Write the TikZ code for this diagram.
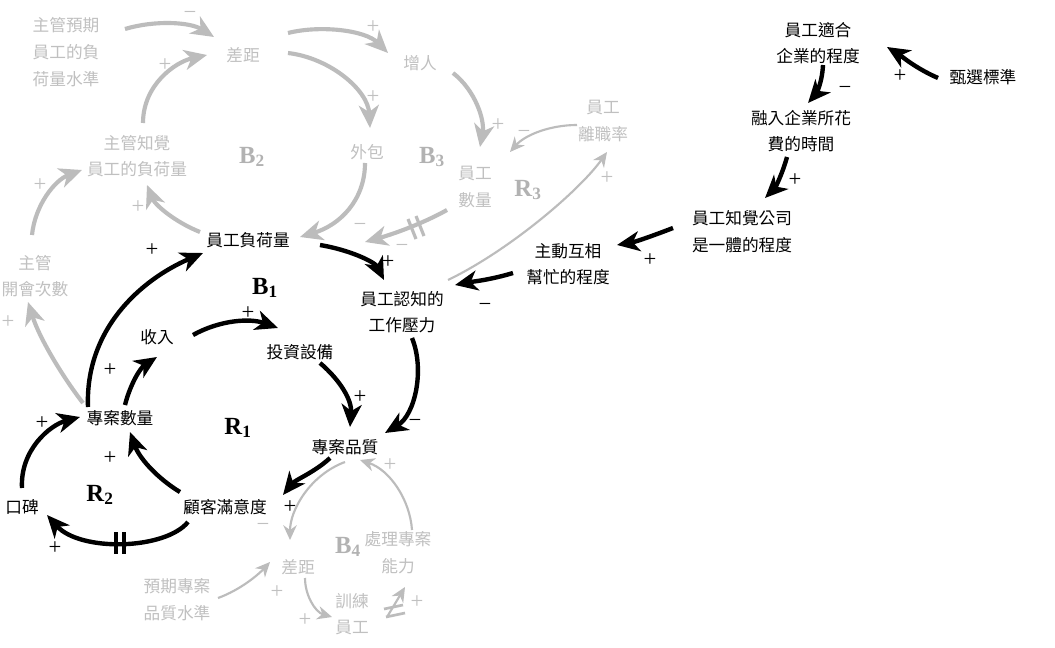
\documentclass[tikz,border=0pt]{standalone}
\usepackage{fontspec}
\setmainfont{Liberation Serif}
\newfontfamily\cjk{Noto Sans CJK TC}
\usetikzlibrary{arrows.meta,calc}
\definecolor{gtxt}{RGB}{192,192,192}
\definecolor{garr}{RGB}{188,188,188}
\definecolor{glab}{RGB}{178,178,178}
\begin{document}
\begin{tikzpicture}[x=0.75pt,y=-0.75pt,
  lbl/.style={font=\cjk\fontsize{12.5}{20}\selectfont, align=center, inner sep=0pt},
  blk/.style={lbl, text=black},
  gry/.style={lbl, text=gtxt},
  barr/.style={draw=black, line width=3.3pt, -{Stealth[length=17pt,width=15pt,inset=5pt]}},
  garrT/.style={draw=garr, line width=3.1pt, -{Stealth[length=17pt,width=15pt,inset=5pt]}},
  garrt/.style={draw=garr, line width=1.6pt, -{Stealth[length=11pt,width=10pt,inset=3.5pt]}},
  sgn/.style={font=\fontsize{17}{17}\selectfont, inner sep=0pt},
  bsg/.style={sgn, text=black},
  gsg/.style={sgn, text=gtxt},
  loopb/.style={font=\fontsize{18.5}{20}\selectfont\bfseries, inner sep=0pt, text=black},
  loopg/.style={loopb, text=glab},
  hashb/.style={draw=black, line width=2.6pt},
  hashg/.style={draw=garr, line width=2.4pt},
]
\useasboundingbox (0,0) rectangle (1055,648);
\fill[white] (0,0) rectangle (1055,648);

% ---- gray nodes
\node[gry] (A)  at (66,52)   {主管預期\\員工的負\\荷量水準};
\node[gry] (g1) at (243,55)  {差距};
\node[gry] (zr) at (420,63)  {增人};
\node[gry] (wb) at (367,152) {外包};
\node[gry] (yg) at (475,187) {員工\\數量};
\node[gry] (lz) at (603,121) {員工\\離職率};
\node[gry] (zj) at (137,156) {主管知覺\\員工的負荷量};
\node[gry] (kh) at (35,276)  {主管\\開會次數};
\node[gry] (yq) at (177,600) {預期專案\\品質水準};
\node[gry] (g2) at (298,567) {差距};
\node[gry] (xl) at (352,614) {訓練\\員工};
\node[gry] (cl) at (398,553) {處理專案\\能力};

% ---- black nodes
\node[blk] (fh) at (248,240) {員工負荷量};
\node[blk] (yl) at (402,312) {員工認知的\\工作壓力};
\node[blk] (sr) at (157,337) {收入};
\node[blk] (tz) at (300,352) {投資設備};
\node[blk] (sl) at (120,418) {專案數量};
\node[blk] (pz) at (345,447) {專案品質};
\node[blk] (gk) at (225,507) {顧客滿意度};
\node[blk] (kb) at (22,507)  {口碑};
\node[blk] (hz) at (568,264) {主動互相\\幫忙的程度};
\node[blk] (yt) at (742,232) {員工知覺公司\\是一體的程度};
\node[blk] (rr) at (801,131) {融入企業所花\\費的時間};
\node[blk] (sh) at (818,43)  {員工適合\\企業的程度};
\node[blk] (zx) at (983,77)  {甄選標準};

% ---- loop labels
\node[loopb] (lB1) at (265,288) {B\textsubscript{1}};
\node[loopb] (lR1) at (238,428) {R\textsubscript{1}};
\node[loopb] (lR2) at (100,495) {R\textsubscript{2}};
\node[loopg] (lB2) at (252,157) {B\textsubscript{2}};
\node[loopg] (lB3) at (432,157) {B\textsubscript{3}};
\node[loopg] (lR3) at (528,190) {R\textsubscript{3}};
\node[loopg] (lB4) at (348,547) {B\textsubscript{4}};

% ---- gray thick connectors
\draw[garrT] ($(A)+(59,-23)$) .. controls (155,20) and (190,22) .. ($(g1)+(-29,-18)$);
\draw[garrT] ($(zj)+(6,-33)$) .. controls (143,85) and (175,62) .. ($(g1)+(-36,0)$);
\draw[garrT] ($(g1)+(45,-22)$) .. controls (320,25) and (365,30) .. ($(zr)+(-32,-10)$);
\draw[garrT] ($(g1)+(45,-2)$) .. controls (330,58) and (368,90) .. ($(wb)+(3,-24)$);
\draw[garrT] ($(zr)+(33,10)$) .. controls (475,90) and (485,120) .. ($(yg)+(5,-40)$);
\draw[garrT] ($(wb)+(-2,11)$) .. controls (365,200) and (340,225) .. ($(fh)+(52,-3)$);
\draw[garrT] ($(fh)+(-48,-8)$) .. controls (175,222) and (155,205) .. ($(zj)+(10,29)$);
\draw[garrT] ($(yg)+(-28,23)$) .. controls (420,225) and (390,235) .. ($(fh)+(117,2)$);
\draw[garrT] ($(sl)+(-37,-15)$) .. controls (65,380) and (40,340) .. ($(kh)+(-7,26)$);
\draw[garrT] ($(kh)+(-3,-41)$) .. controls (35,205) and (55,180) .. ($(zj)+(-55,14)$);
\draw[hashg] (408,219) -- (416,239) (416,216) -- (424,236);

% ---- gray thin connectors
\draw[garrt] ($(lz)+(-26,4)$) .. controls (550,125) and (525,135) .. ($(yg)+(35,-35)$);
\draw[garrt] ($(yl)+(46,-32)$) .. controls (510,250) and (580,190) .. ($(lz)+(4,31)$);
\draw[garrt] ($(pz)+(0,15)$) .. controls (310,475) and (290,510) .. ($(g2)+(-8,-27)$);
\draw[garrt] ($(yq)+(41,-2)$) .. controls (240,590) and (258,575) .. ($(g2)+(-28,-5)$);
\draw[garrt] ($(g2)+(7,11)$) .. controls (305,595) and (315,612) .. ($(xl)+(-20,3)$);
\draw[garrt] ($(xl)+(35,3)$) -- ($(cl)+(7,34)$);
\draw[garrt] ($(cl)+(14,-23)$) .. controls (410,500) and (390,470) .. ($(pz)+(15,13)$);
\draw[hashg, line width=2pt] (384,609) -- (403,605) (386,617) -- (405,613);

% ---- black connectors
\draw[barr] ($(fh)+(72,5)$) .. controls (350,250) and (375,262) .. ($(yl)+(-18,-32)$);
\draw[barr] ($(sl)+(-32,-11)$) .. controls (85,330) and (140,280) .. ($(fh)+(-45,13)$);
\draw[barr] ($(sl)+(5,-13)$) .. controls (130,385) and (140,368) .. ($(sr)+(0,20)$);
\draw[barr] ($(sr)+(36,-2)$) .. controls (220,320) and (250,318) .. ($(tz)+(-22,-24)$);
\draw[barr] ($(tz)+(20,11)$) .. controls (340,380) and (352,400) .. ($(pz)+(5,-20)$);
\draw[barr] ($(yl)+(10,26)$) .. controls (425,370) and (415,415) .. ($(pz)+(40,-14)$);
\draw[barr] ($(pz)+(-15,11)$) .. controls (315,472) and (295,480) .. ($(gk)+(58,-12)$);
\draw[barr] ($(gk)+(-45,-15)$) .. controls (160,480) and (140,460) .. ($(sl)+(10,14)$);
\draw[barr] ($(gk)+(-37,15)$) .. controls (165,550) and (80,552) .. ($(kb)+(25,8)$);
\draw[barr] ($(kb)+(0,-19)$) .. controls (20,450) and (50,425) .. ($(sl)+(-40,-1)$);
\draw[barr] ($(hz)+(-55,9)$) .. controls (490,280) and (470,282) .. ($(yl)+(53,-27)$);
\draw[barr] ($(yt)+(-69,-4)$) .. controls (655,235) and (635,242) .. ($(hz)+(49,-19)$);
\draw[barr] ($(rr)+(-14,26)$) .. controls (782,175) and (775,188) .. ($(yt)+(23,-34)$);
\draw[barr] ($(sh)+(5,22)$) .. controls (822,85) and (815,95) .. ($(rr)+(7,-28)$);
\draw[barr] ($(zx)+(-45,1)$) .. controls (915,68) and (900,55) .. ($(sh)+(69,4)$);
\draw[hashb] (116,532) -- (116,554) (124,532) -- (124,554);

% ---- signs gray
\node[gsg] (s1)  at (190,15)  {−};
\node[gsg] (s2)  at (165,65)  {+};
\node[gsg] (s3)  at (373,27)  {+};
\node[gsg] (s4)  at (373,97)  {+};
\node[gsg] (s5)  at (498,125) {+};
\node[gsg] (s6)  at (360,227) {−};
\node[gsg] (s7)  at (138,207) {+};
\node[gsg] (s8)  at (402,248) {−};
\node[gsg] (s9)  at (524,134) {−};
\node[gsg] (s10) at (607,178) {+};
\node[gsg] (s11) at (8,322)   {+};
\node[gsg] (s12) at (40,185)  {+};
\node[gsg] (s13) at (263,527) {−};
\node[gsg] (s14) at (277,592) {+};
\node[gsg] (s15) at (305,620) {+};
\node[gsg] (s16) at (417,602) {+};
\node[gsg] (s17) at (390,465) {+};
% ---- signs black
\node[bsg] (s18) at (388,262) {+};
\node[bsg] (s19) at (152,250) {+};
\node[bsg] (s20) at (110,370) {+};
\node[bsg] (s21) at (248,313) {+};
\node[bsg] (s22) at (360,397) {+};
\node[bsg] (s23) at (415,423) {−};
\node[bsg] (s24) at (290,507) {+};
\node[bsg] (s25) at (110,458) {+};
\node[bsg] (s26) at (55,548)  {+};
\node[bsg] (s27) at (42,423)  {+};
\node[bsg] (s28) at (485,307) {−};
\node[bsg] (s29) at (650,260) {+};
\node[bsg] (s30) at (795,180) {+};
\node[bsg] (s31) at (845,90)  {−};
\node[bsg] (s32) at (900,76)  {+};
\end{tikzpicture}
\end{document}
